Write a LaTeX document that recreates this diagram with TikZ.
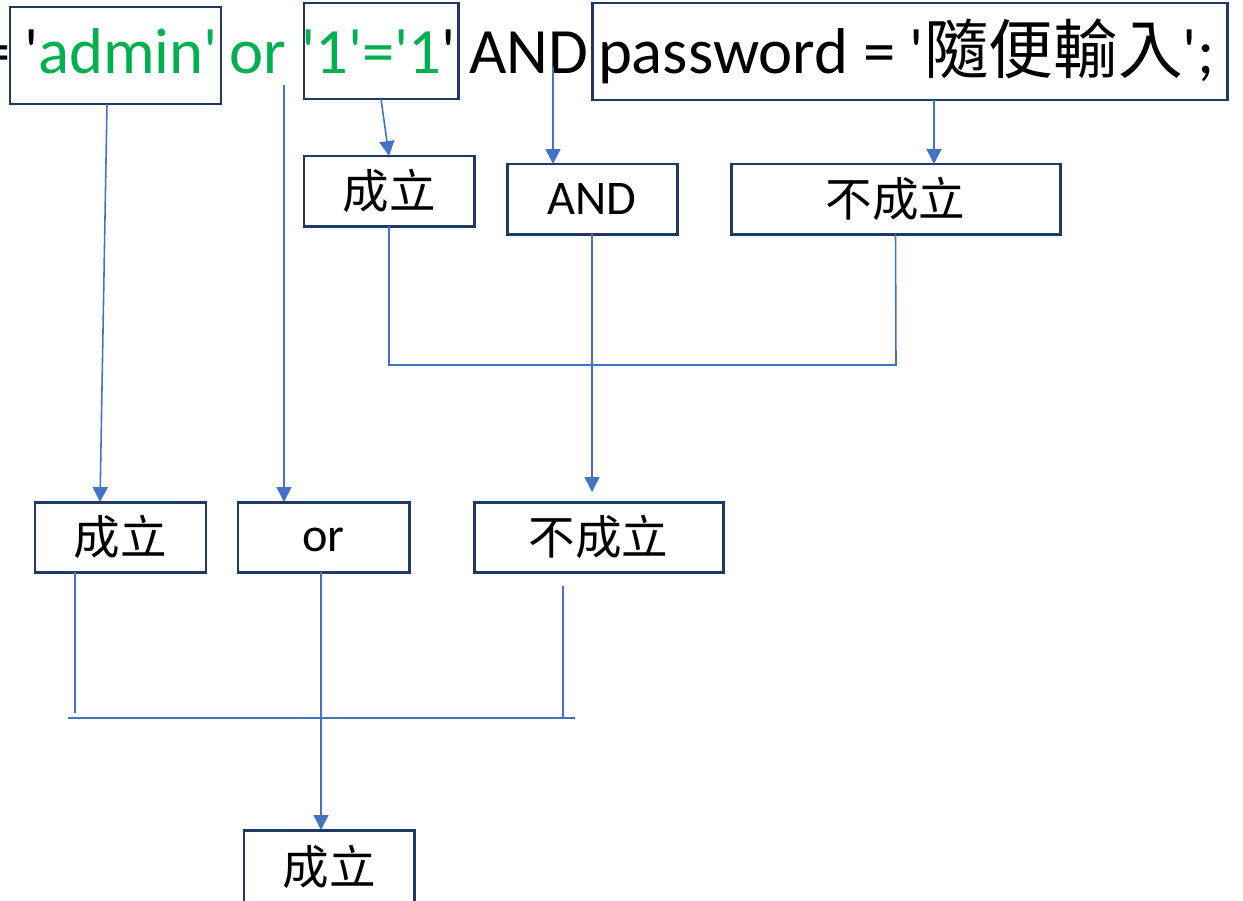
\documentclass[tikz,border=0pt]{standalone}
\usepackage{fontspec}
\usetikzlibrary{arrows.meta,calc}
\newfontfamily\lat{Carlito}
\newfontfamily\cjk{Noto Sans CJK TC}
\definecolor{navy}{HTML}{1F3864}
\definecolor{linkblue}{HTML}{4472C4}
\definecolor{sqlgreen}{HTML}{00B050}

\begin{document}
\begin{tikzpicture}[x=0.02cm,y=-0.02cm,
  frame/.style={draw=navy,line width=1.7pt,inner sep=0pt,outer sep=0pt,text=black},
  sqltext/.style={anchor=base west,inner sep=0pt,outer sep=0pt,font=\lat\fontsize{36.8}{40}\selectfont},
  wire/.style={draw=linkblue,line width=0.9pt},
  feed/.style={wire,-{Triangle[width=8.5pt,length=8.5pt]}},
  word/.style={font=\lat\fontsize{27.5}{32}\selectfont},
  han/.style={font=\cjk\fontsize{26.5}{30}\selectfont}]
\useasboundingbox (0,0) rectangle (1243,900);

% the SQL condition
\node[sqltext,anchor=base east] (eq) at (11,73) {=};
\node[sqltext] (w1) at (24,73) {'\textcolor{sqlgreen}{admin'}};
\node[sqltext,text=sqlgreen] (w2) at (229,73) {or};
\node[sqltext] (w3) at (301,73) {\textcolor{sqlgreen}{'1'='1}'};
\node[sqltext] (w4) at (469,73) {AND};
\node[sqltext] (w5) at (598,73) {password = '{\cjk 隨便輸入}';};

% frames around the operands
\node[frame,minimum width=211*0.02cm,minimum height=97*0.02cm] (B1) at (115.5,55.5) {};
\node[frame,minimum width=154*0.02cm,minimum height=96*0.02cm] (B2) at (381,51) {};
\node[frame,minimum width=635*0.02cm,minimum height=97*0.02cm] (B3) at (909.5,51.5) {};

% first evaluation: '1'='1' AND password
\node[frame,han,minimum width=170*0.02cm,minimum height=70*0.02cm] (C1) at (389,191) {成立};
\node[frame,word,minimum width=170*0.02cm,minimum height=70*0.02cm] (C2) at (592,199) {AND};
\node[frame,han,minimum width=329*0.02cm,minimum height=70*0.02cm] (C3) at (895.5,199) {不成立};

% second evaluation: 'admin' or (...)
\node[frame,han,minimum width=171*0.02cm,minimum height=70*0.02cm] (D1) at (120.5,537) {成立};
\node[frame,word,minimum width=171*0.02cm,minimum height=70*0.02cm] (D2) at (323.5,537) {\raisebox{-8pt}[0pt][0pt]{or}};
\node[frame,han,minimum width=249*0.02cm,minimum height=70*0.02cm] (D3) at (598.5,537) {不成立};

% result
\node[frame,han,minimum width=170*0.02cm,minimum height=74*0.02cm] (E1) at (329,867) {成立};

% connector end points
\coordinate (adminfoot) at ($(B1.south)+(-8.5,0)$);
\coordinate (admintip) at ($(D1.north)+(-20.5,0)$);
\coordinate (orfoot) at (284,85);
\coordinate (andfoot) at (553,67);
\coordinate (pwfoot) at ($(B3.south)+(24.5,0)$);
\coordinate (join1) at (896,365);
\coordinate (andtip) at ($(C2.south |- D3.north)+(0,-10)$);
\coordinate (leftfoot) at ($(D1.south)+(-45.5,0)$);
\coordinate (rightfoot) at ($(D3.south)+(-35.5,14)$);
\coordinate (baseL) at (68,718);
\coordinate (baseR) at (575,718);
\coordinate (resfoot) at ($(D2.south)+(-2.5,0)$);

% connectors
\draw[feed] (adminfoot) -- (admintip);
\draw[feed] (orfoot) -- (orfoot |- D2.north);
\draw[feed] (B2.south) -- (C1.north);
\draw[feed] (andfoot) -- (andfoot |- C2.north);
\draw[feed] (pwfoot) -- (pwfoot |- C3.north);
\draw[wire] (C1.south) |- (join1) -- (C3.south);
\draw[feed] (C2.south) -- (andtip);
\draw[wire] (leftfoot) -- (leftfoot |- 0,713);
\draw[wire] (rightfoot) -- (rightfoot |- baseR);
\draw[wire] (baseL) -- (baseR);
\draw[feed] (resfoot) -- (resfoot |- E1.north);
\end{tikzpicture}
\end{document}
